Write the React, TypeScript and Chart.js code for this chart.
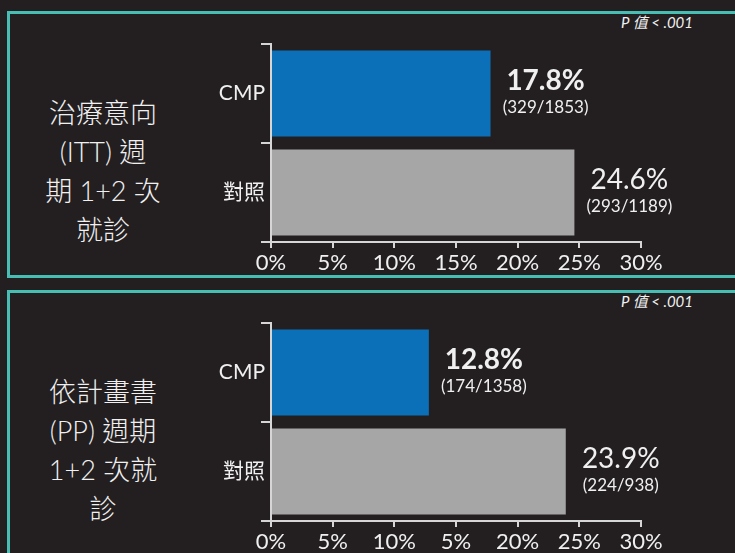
import React, { useEffect, useRef } from 'react';
import { Chart, registerables } from 'chart.js';

Chart.register(...registerables);

// ---- data ----
const categories = ['CMP', '對照'];

const ittValues = [17.8, 24.6];
const ittEvents = [329, 293];
const ittTotals = [1853, 1189];
const ittTitleLines = ['治療意向', '(ITT) 週', '期 1+2 次', '就診'];
const ittTickLabels = ['0%', '5%', '10%', '15%', '20%', '25%', '30%'];

const ppValues = [12.8, 23.9];
const ppEvents = [174, 224];
const ppTotals = [1358, 938];
const ppTitleLines = ['依計畫書', '(PP) 週期', '1+2 次就', '診'];
const ppTickLabels = ['0%', '5%', '10%', '5%', '20%', '25%', '30%'];

const pValueText = 'P 值 < .001';

// ---- styles ----
const BG = '#231f20';
const TEAL = '#47bdb3';
const TEXT = '#f0f0f0';
const AXIS = '#d6d6d6';
const barColors = ['#0b70b8', '#a6a6a6'];
const labelWeights = ['bold', 'normal'];
const LATIN = 'Lato, "Noto Sans CJK TC", sans-serif';

type PanelProps = {
  top: number;
  values: number[];
  events: number[];
  totals: number[];
  tickLabels: string[];
  titleLines: string[];
};

function BarPanel({ top, values, events, totals, tickLabels, titleLines }: PanelProps) {
  const ref = useRef<HTMLCanvasElement | null>(null);

  useEffect(() => {
    if (!ref.current) return;
    const labelPlugin = {
      id: 'barLabels',
      afterDatasetsDraw(chart: any) {
        const ctx = chart.ctx;
        const meta = chart.getDatasetMeta(0);
        meta.data.forEach((bar: any, i: number) => {
          const cx = bar.x + 55;
          ctx.save();
          ctx.fillStyle = TEXT;
          ctx.textAlign = 'center';
          ctx.textBaseline = 'middle';
          ctx.font = `${labelWeights[i]} 28px ${LATIN}`;
          ctx.fillText(`${values[i].toFixed(1)}%`, cx, bar.y - 13);
          ctx.font = `normal 17px ${LATIN}`;
          ctx.fillText(`(${events[i]}/${totals[i]})`, cx, bar.y + 14);
          ctx.restore();
        });
      },
    };
    const chart = new Chart(ref.current, {
      type: 'bar',
      data: {
        labels: categories,
        datasets: [
          {
            data: values,
            backgroundColor: barColors,
            borderWidth: 0,
            barPercentage: 0.87,
            categoryPercentage: 1,
          },
        ],
      },
      options: {
        indexAxis: 'y',
        responsive: false,
        animation: false,
        layout: { padding: { top: 14, right: 60, left: 0, bottom: 0 } },
        plugins: { legend: { display: false }, tooltip: { enabled: false } },
        scales: {
          x: {
            min: 0,
            max: 30,
            ticks: {
              stepSize: 5,
              color: TEXT,
              font: { family: LATIN, size: 22 },
              padding: 2,
              maxRotation: 0,
              autoSkip: false,
              callback: (_v: any, i: number) => tickLabels[i],
            },
            grid: { drawOnChartArea: false, tickLength: 6, color: AXIS, lineWidth: 2 },
            border: { color: AXIS, width: 2 },
            afterFit: (s: any) => {
              s.height = 38;
            },
          },
          y: {
            ticks: {
              color: TEXT,
              font: { family: LATIN, size: 21 },
              padding: -4,
            },
            grid: { drawOnChartArea: false, tickLength: 10, color: AXIS, lineWidth: 2, offset: true },
            border: { color: AXIS, width: 2 },
            afterFit: (s: any) => {
              s.width = 90;
            },
          },
        },
      } as any,
      plugins: [labelPlugin],
    });
    return () => chart.destroy();
  }, []);

  return (
    <>
      <div
        style={{
          position: 'absolute',
          left: 7,
          top: top,
          width: 800,
          height: 267,
          boxSizing: 'border-box',
          border: `3px solid ${TEAL}`,
        }}
      />
      <div
        style={{
          position: 'absolute',
          left: 30,
          top: top + 82,
          width: 146,
          textAlign: 'center',
          color: TEXT,
          fontFamily: LATIN,
          fontWeight: 300,
          fontSize: 27,
          lineHeight: '39px',
        }}
      >
        {titleLines.map((l, i) => (
          <div key={i}>{l}</div>
        ))}
      </div>
      <div
        style={{
          position: 'absolute',
          right: 735 - 693,
          top: top + 1,
          color: TEXT,
          fontFamily: LATIN,
          fontStyle: 'italic',
          fontSize: 15,
          lineHeight: '20px',
          whiteSpace: 'nowrap',
        }}
      >
        {pValueText}
      </div>
      <canvas
        ref={ref}
        width={520}
        height={250}
        style={{ position: 'absolute', left: 181, top: top + 19, width: 520, height: 250 }}
      />
    </>
  );
}

export default function App() {
  return (
    <div
      style={{
        position: 'fixed',
        left: 0,
        top: 0,
        width: 735,
        height: 553,
        background: BG,
        overflow: 'hidden',
      }}
    >
      <BarPanel
        top={11}
        values={ittValues}
        events={ittEvents}
        totals={ittTotals}
        tickLabels={ittTickLabels}
        titleLines={ittTitleLines}
      />
      <BarPanel
        top={290}
        values={ppValues}
        events={ppEvents}
        totals={ppTotals}
        tickLabels={ppTickLabels}
        titleLines={ppTitleLines}
      />
    </div>
  );
}
